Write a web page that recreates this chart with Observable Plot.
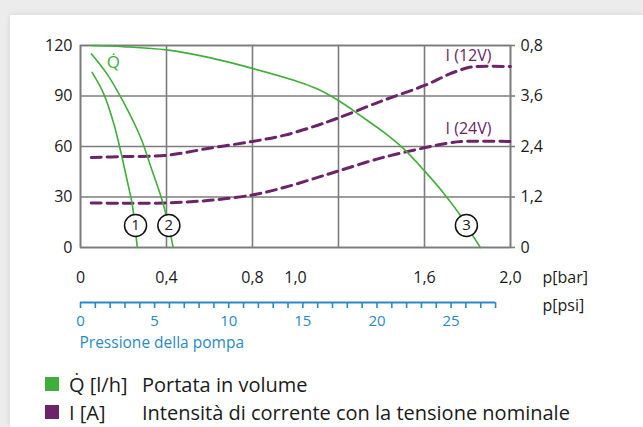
<!DOCTYPE html>
<html>
<head>
<meta charset="utf-8">
<script src="https://cdn.jsdelivr.net/npm/d3@7"></script>
<script src="https://cdn.jsdelivr.net/npm/@observablehq/plot@0.6"></script>
<style>
  html, body { margin: 0; padding: 0; width: 643px; height: 427px; overflow: hidden; background: #ececec; }
  .card { position: absolute; left: 10px; top: 15px; width: 633px; height: 412px; background: #fff;
          box-shadow: 0 0 6px rgba(0,0,0,0.10); font-family: "Open Sans", sans-serif; }
  #chart { position: absolute; left: 0; top: 0; }
  .legend { position: absolute; left: 35px; top: 355px; font-size: 20px; color: #1a1a1a; }
  .row { display: flex; align-items: center; height: 28px; white-space: nowrap; }
  .sw { width: 14px; height: 14px; margin-right: 10px; }
  .k { width: 73px; }
</style>
</head>
<body>
<div class="card">
  <div id="chart"></div>
  <div class="legend" id="legend"></div>
</div>
<script>
// ---- data (pressure in bar, flow in l/h, current in A) ----
const curve1 = [[0.054,104],[0.108,91.3],[0.155,73.5],[0.186,57.6],[0.217,39.8],[0.24,26],[0.253,13],[0.264,0]];
const curve2 = [[0.051,115],[0.124,103],[0.2,86.3],[0.279,65.5],[0.333,45.7],[0.38,27.9],[0.41,13],[0.431,0]];
const curve3 = [[0.05,120],[0.2,119.3],[0.4,117.4],[0.6,112.8],[0.8,106.4],[1.0,99],[1.1,94.3],[1.2,87.3],[1.3,78.5],[1.41,68.5],[1.5,59],[1.6,45.5],[1.7,30.5],[1.767,19],[1.795,13],[1.86,0]];
const current12V = [[0.05,2.14],[0.2,2.16],[0.4,2.19],[0.6,2.36],[0.8,2.52],[0.95,2.67],[1.1,2.9],[1.2,3.08],[1.4,3.48],[1.6,3.85],[1.72,4.13],[1.8,4.27],[1.84,4.3],[2.0,4.3]];
const current24V = [[0.05,1.06],[0.2,1.05],[0.4,1.06],[0.6,1.12],[0.8,1.25],[0.95,1.43],[1.1,1.66],[1.2,1.82],[1.4,2.13],[1.6,2.37],[1.72,2.49],[1.77,2.52],[2.0,2.52]];
const curveMarkers = [{n: "1", p: 0.256, q: 13.1}, {n: "2", p: 0.411, q: 13.1}, {n: "3", p: 1.795, q: 13.1}];
const flowLabel = [{t: "Q\u0307", p: 0.153, q: 110}];
const currentLabels = [{t: "I (12V)", p: 1.698, a: 4.56}, {t: "I (24V)", p: 1.698, a: 2.83}];

const barGrid = [0, 0.4, 0.8, 1.2, 1.6, 2.0];
const barTicks = [0, 0.4, 0.8, 1.0, 1.6, 2.0];
const barLabels = ["0", "0,4", "0,8", "1,0", "1,6", "2,0"];
const flowTicks = [0, 30, 60, 90, 120];
const ampLabels = ["0", "1,2", "2,4", "3,6", "0,8"];
const psiMinor = [0,1,2,3,4,5,6,7,8,9,10,11,12,13,14,15,16,17,18,19,20,21,22,23,24,25,26,27,28];
const psiLabels = [0, 5, 10, 15, 20, 25];
const psiPerBar = 14.5038;
const flowMax = 120, ampMax = 4.8;

const legendItems = [
  {color: "#3fae3a", key: "Q\u0307 [l/h]", text: "Portata in volume"},
  {color: "#6b2468", key: "I [A]", text: "Intensità di corrente con la tensione nominale"}
];

// ---- styles ----
const green = "#3fae3a", purple = "#6b2468", blue = "#2a8ac6", gray = "#7c7c7c", ink = "#1a1a1a";
const toY = a => a * flowMax / ampMax;

const chart = Plot.plot({
  width: 633, height: 345,
  marginLeft: 70, marginRight: 133, marginTop: 30, marginBottom: 113,
  style: {fontFamily: "Open Sans, sans-serif", fontSize: "16px", color: ink, background: "transparent", overflow: "visible"},
  x: {domain: [0, 2], axis: null},
  y: {domain: [0, flowMax], axis: null},
  marks: [
    Plot.gridX(barGrid, {stroke: gray, strokeOpacity: 1, strokeWidth: 1.6}),
    Plot.gridY(flowTicks, {stroke: gray, strokeOpacity: 1, strokeWidth: 1.6}),
    Plot.frame({stroke: gray, strokeWidth: 1.6}),
    Plot.axisY(flowTicks, {anchor: "left", tickSize: 0, tickPadding: 8, fontSize: 16, label: null}),
    Plot.axisY(flowTicks, {anchor: "right", tickSize: 4, tickPadding: 6, stroke: gray, strokeWidth: 1.6, fontSize: 16, label: null,
      tickFormat: d => ampLabels[flowTicks.indexOf(d)]}),
    Plot.axisX(barTicks, {anchor: "bottom", tickSize: 0, tickPadding: 24, fontSize: 16, label: null,
      tickFormat: d => barLabels[barTicks.indexOf(d)]}),
    Plot.text(["p[bar]"], {frameAnchor: "bottom-right", lineAnchor: "middle", textAnchor: "start", dx: 32, dy: 30, fontSize: 16, fill: ink}),
    // psi axis
    Plot.ruleY([0], {x1: 0, x2: psiMinor[psiMinor.length - 1] / psiPerBar, dy: 55, stroke: blue, strokeWidth: 2}),
    Plot.axisX(psiMinor.map(p => p / psiPerBar), {anchor: "bottom", tickSize: 6, dy: 55, stroke: blue, strokeWidth: 1.6, fill: "none", label: null}),
    Plot.text(psiLabels, {x: d => d / psiPerBar, text: d => String(d), frameAnchor: "bottom", lineAnchor: "middle", dy: 74, fill: blue, fontSize: 15}),
    Plot.text(["Pressione della pompa"], {x: [0], frameAnchor: "bottom", lineAnchor: "middle", textAnchor: "start", dx: -1, dy: 96, fill: blue, fontSize: 15.5}),
    Plot.text(["p[psi]"], {frameAnchor: "bottom-right", lineAnchor: "middle", textAnchor: "start", dx: 32, dy: 58, fontSize: 16, fill: ink}),
    // current curves
    Plot.line(current24V, {x: d => d[0], y: d => toY(d[1]), stroke: purple, strokeWidth: 3, strokeDasharray: "10,6", curve: "catmull-rom"}),
    Plot.line(current12V, {x: d => d[0], y: d => toY(d[1]), stroke: purple, strokeWidth: 3, strokeDasharray: "10,6", curve: "catmull-rom"}),
    // flow curves
    Plot.line(curve1, {x: d => d[0], y: d => d[1], stroke: green, strokeWidth: 1.6, curve: "catmull-rom"}),
    Plot.line(curve2, {x: d => d[0], y: d => d[1], stroke: green, strokeWidth: 1.6, curve: "catmull-rom"}),
    Plot.line(curve3, {x: d => d[0], y: d => d[1], stroke: green, strokeWidth: 1.6, curve: "catmull-rom"}),
    Plot.dot(curveMarkers, {x: "p", y: "q", r: 11, fill: "white", stroke: "#111", strokeWidth: 1.5}),
    Plot.text(curveMarkers, {x: "p", y: "q", text: "n", fontSize: 15, fill: ink}),
    Plot.text(flowLabel, {x: "p", y: "q", text: "t", fontSize: 17, fill: green}),
    Plot.text(currentLabels, {x: "p", y: d => toY(d.a), text: "t", textAnchor: "start", fontSize: 16, fill: purple})
  ]
});
document.getElementById("chart").appendChild(chart);

const lg = document.getElementById("legend");
for (const it of legendItems) {
  const row = document.createElement("div");
  row.className = "row";
  row.innerHTML = `<div class="sw" style="background:${it.color}"></div><div class="k">${it.key}</div><div>${it.text}</div>`;
  lg.appendChild(row);
}
</script>
</body>
</html>
